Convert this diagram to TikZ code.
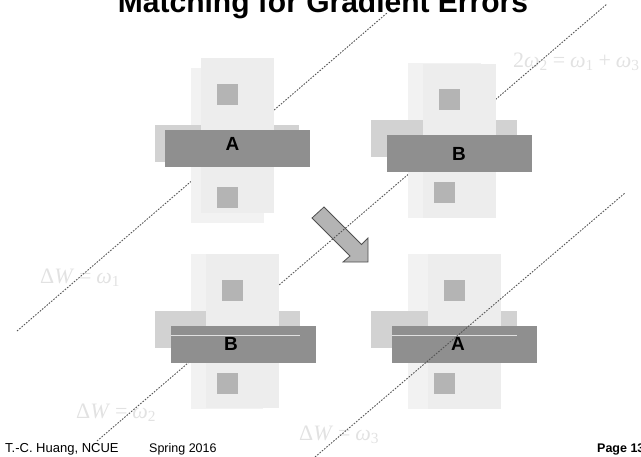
\documentclass[tikz,border=0pt]{standalone}
\usepackage{fontspec}
\setmainfont{Liberation Sans}
\newfontfamily\fmlfont{Liberation Serif}
\definecolor{shadowlt}{HTML}{F2F2F2}
\definecolor{texgray}{HTML}{D2D2D2}
\definecolor{difflt}{HTML}{EDEDED}
\definecolor{contgray}{HTML}{B4B4B4}
\definecolor{gategray}{HTML}{8F8F8F}
\definecolor{dotgray}{HTML}{555555}
\definecolor{fmlgray}{HTML}{E2E2E2}
\definecolor{arrowedge}{HTML}{505050}
\tikzset{
  shadowv/.style={fill=shadowlt},
  texh/.style={fill=texgray},
  diff/.style={fill=difflt},
  contact/.style={fill=contgray},
  gate/.style={fill=gategray},
  hilite/.style={draw=white!88!black, line width=0.8pt},
  glabel/.style={inner sep=0pt, font=\fontsize{19}{22}\selectfont\bfseries},
  guide/.style={draw=dotgray, line width=0.9pt, dash pattern=on 1.6pt off 1.4pt},
  formula/.style={inner sep=0pt, anchor=base west, text=fmlgray, font=\fontsize{22}{25}\fmlfont},
  footer/.style={inner sep=0pt, anchor=base west, font=\fontsize{12.5}{14}\selectfont},
}
\newcommand{\om}{\textit{ω}}
\newcommand{\rel}[1]{\hspace{0.22em}#1\hspace{0.22em}}
\begin{document}
\begin{tikzpicture}[x=1pt, y=-1pt]
\useasboundingbox (0,0) rectangle (641,456);

% title
\node[inner sep=0pt, anchor=base, font=\fontsize{30}{34}\selectfont\bfseries] (title) at (323,12) {Matching for Gradient Errors};

% faint equations
\node[formula] (eqsum) at (513,67) {2\om\textsubscript{2}\rel{=}\om\textsubscript{1}\rel{+}\om\textsubscript{3}};
\node[formula] (eqw1) at (40,283) {Δ\textit{W}\rel{=}\om\textsubscript{1}};
\node[formula] (eqw2) at (76,418) {Δ\textit{W}\rel{=}\om\textsubscript{2}};
\node[formula] (eqw3) at (299,440) {Δ\textit{W}\rel{=}\om\textsubscript{3}};

% swap arrow
\draw[fill=contgray, draw=arrowedge, line width=0.8pt, line join=miter]
  (312,218) -- (324,207) -- (361.5,244.5) -- (368,238) -- (368,262)
  -- (343,262) -- (350,256) -- cycle;

% dotted guides lying under the devices
\coordinate (g1a) at (17,331);  \coordinate (g1b) at (387,13);
\coordinate (g2a) at (97,441);  \coordinate (g2b) at (607,4);
\coordinate (g3a) at (315,457); \coordinate (g3b) at (625,193);
\draw[guide] (g1a) -- (g1b);
\draw[guide] (g2a) -- (g2b);

% device A, top left
\fill[shadowv] (191,68) rectangle (264,223);
\fill[texh] (155,125) rectangle (299,162);
\fill[diff] (201,58) rectangle (274,213);
\fill[contact] (217,84) rectangle (238,105);
\fill[contact] (217,187) rectangle (238,208);
\fill[gate] (165,130) rectangle (310,167);
\node[glabel] (la1) at (232.5,144) {A};

% device B, top right
\fill[shadowv] (408,63) rectangle (481,218);
\fill[texh] (371,120) rectangle (517,157);
\fill[diff] (423,64) rectangle (496,218);
\fill[contact] (439,89) rectangle (460,110);
\fill[contact] (434,182) rectangle (455,203);
\fill[gate] (387,135) rectangle (532,172);
\node[glabel] (lb1) at (459,153.5) {B};

% device B, bottom left
\fill[shadowv] (191,254) rectangle (263,409);
\fill[texh] (155,311) rectangle (300,348);
\fill[diff] (206,254) rectangle (279,408);
\fill[contact] (222,280) rectangle (243,301);
\fill[contact] (217,373) rectangle (238,394);
\fill[gate] (171,326) rectangle (316,363);
\draw[hilite] (171,335) -- (300,335);
\node[glabel] (lb2) at (231,343.5) {B};

% device A, bottom right
\fill[shadowv] (408,254) rectangle (480,409);
\fill[texh] (371,311) rectangle (517,348);
\fill[diff] (428,254) rectangle (501,409);
\fill[contact] (444,280) rectangle (465,301);
\fill[contact] (434,373) rectangle (455,394);
\fill[gate] (392,326) rectangle (537,363);
\draw[hilite] (392,335) -- (517,335);
\node[glabel] (la2) at (458,343.5) {A};

% guide drawn over the last device
\draw[guide] (g3a) -- (g3b);

% footer
\node[footer, font=\fontsize{13}{15}\selectfont] (author) at (5,452) {T.-C. Huang, NCUE};
\node[footer] (term) at (149,452) {Spring 2016};
\node[footer, font=\fontsize{12.5}{14}\selectfont\bfseries] (page) at (597,452) {Page 13};
\end{tikzpicture}
\end{document}
